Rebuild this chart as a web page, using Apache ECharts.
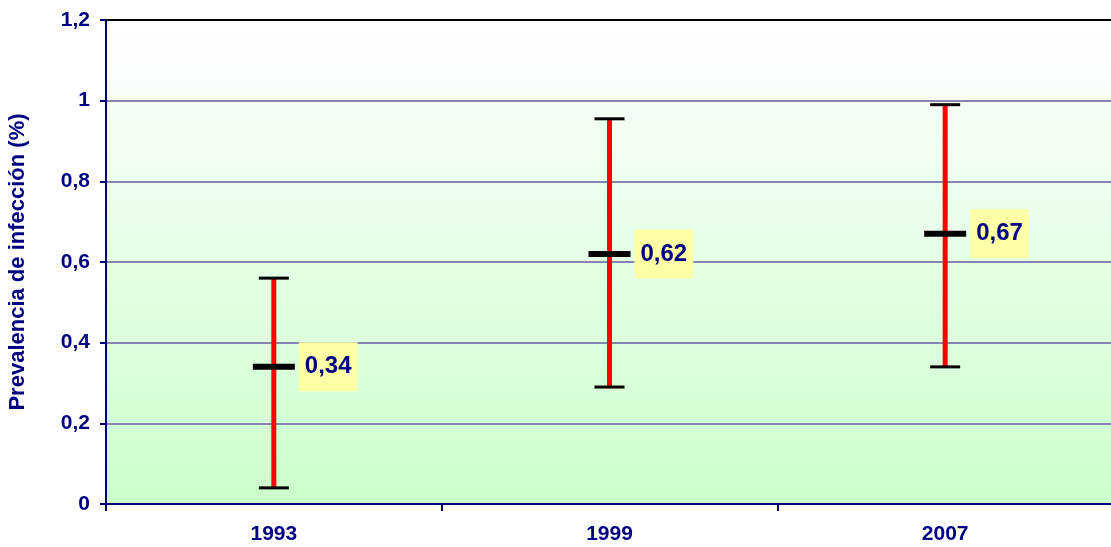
<!DOCTYPE html>
<html>
<head>
<meta charset="utf-8">
<script src="https://cdn.jsdelivr.net/npm/echarts@6/dist/echarts.min.js"></script>
<style>
  html,body{margin:0;padding:0;background:#fff;}
  #chart{width:1111px;height:547px;}
</style>
</head>
<body>
<div id="chart"></div>
<script>
  var years = ['1993', '1999', '2007'];
  var lows = [0.04, 0.29, 0.34];
  var means = [0.34, 0.62, 0.67];
  var highs = [0.56, 0.955, 0.99];

  var navy = '#000080';
  var font = '"Liberation Sans", Arial, sans-serif';

  function comma(v) {
    return String(v).replace('.', ',');
  }

  var chart = echarts.init(document.getElementById('chart'));

  // barras de error: linea roja + topes negros
  function renderErr(params, api) {
    var x = api.value(0);
    var top = api.coord([x, api.value(2)]);
    var bot = api.coord([x, api.value(1)]);
    var half = 15;
    return {
      type: 'group',
      children: [
        {type: 'line', shape: {x1: top[0], y1: top[1], x2: bot[0], y2: bot[1]},
         style: {stroke: '#ff0000', lineWidth: 5}},
        {type: 'line', shape: {x1: top[0] - half, y1: top[1], x2: top[0] + half, y2: top[1]},
         style: {stroke: '#000', lineWidth: 3}},
        {type: 'line', shape: {x1: bot[0] - half, y1: bot[1], x2: bot[0] + half, y2: bot[1]},
         style: {stroke: '#000', lineWidth: 3}}
      ]
    };
  }

  chart.setOption({
    animation: false,
    textStyle: {fontFamily: font},
    grid: {
      left: 106, right: -2, top: 20, bottom: 43,
      outerBoundsMode: 'none',
      containLabel: false,
      show: true,
      borderWidth: 0,
      backgroundColor: new echarts.graphic.LinearGradient(0, 0, 0, 1, [
        {offset: 0, color: '#ffffff'},
        {offset: 1, color: '#ccffcc'}
      ])
    },
    xAxis: [{
      type: 'category',
      data: years,
      position: 'bottom',
      axisLine: {lineStyle: {color: navy, width: 2}},
      axisTick: {show: true, length: 7, lineStyle: {color: navy, width: 2}},
      axisLabel: {color: navy, fontSize: 21, fontWeight: 'bold', fontFamily: font, margin: 20},
      splitLine: {show: false}
    }, {
      type: 'category',
      data: years,
      position: 'top',
      axisLine: {lineStyle: {color: '#000', width: 2}},
      axisTick: {show: false},
      axisLabel: {show: false}
    }],
    yAxis: {
      type: 'value',
      min: 0, max: 1.2, interval: 0.2,
      name: 'Prevalencia de infección (%)',
      nameLocation: 'middle',
      nameGap: 77,
      nameTextStyle: {color: navy, fontSize: 22, fontWeight: 'bold', fontFamily: font},
      axisLine: {show: true, lineStyle: {color: navy, width: 2}},
      axisTick: {show: true, length: 6, lineStyle: {color: navy, width: 2}},
      axisLabel: {
        color: navy, fontSize: 21, fontWeight: 'bold', fontFamily: font, margin: 16,
        formatter: function (v) { return comma(+v.toFixed(1)); }
      },
      splitLine: {lineStyle: {color: '#8585b0', width: 2}}
    },
    series: [{
      type: 'custom',
      renderItem: renderErr,
      encode: {x: 0, y: [1, 2]},
      data: years.map(function (y, i) { return [i, lows[i], highs[i]]; }),
      z: 3
    }, {
      type: 'scatter',
      symbol: 'rect',
      symbolSize: [42, 6],
      itemStyle: {color: '#000', opacity: 1},
      data: means,
      z: 4,
      label: {
        show: true,
        position: 'right',
        distance: 4,
        formatter: function (p) { return comma(p.value); },
        color: navy,
        fontSize: 24,
        fontWeight: 'bold',
        fontFamily: font,
        backgroundColor: '#ffffa6',
        padding: [13, 6, 12, 6]
      }
    }]
  });
</script>
</body>
</html>
